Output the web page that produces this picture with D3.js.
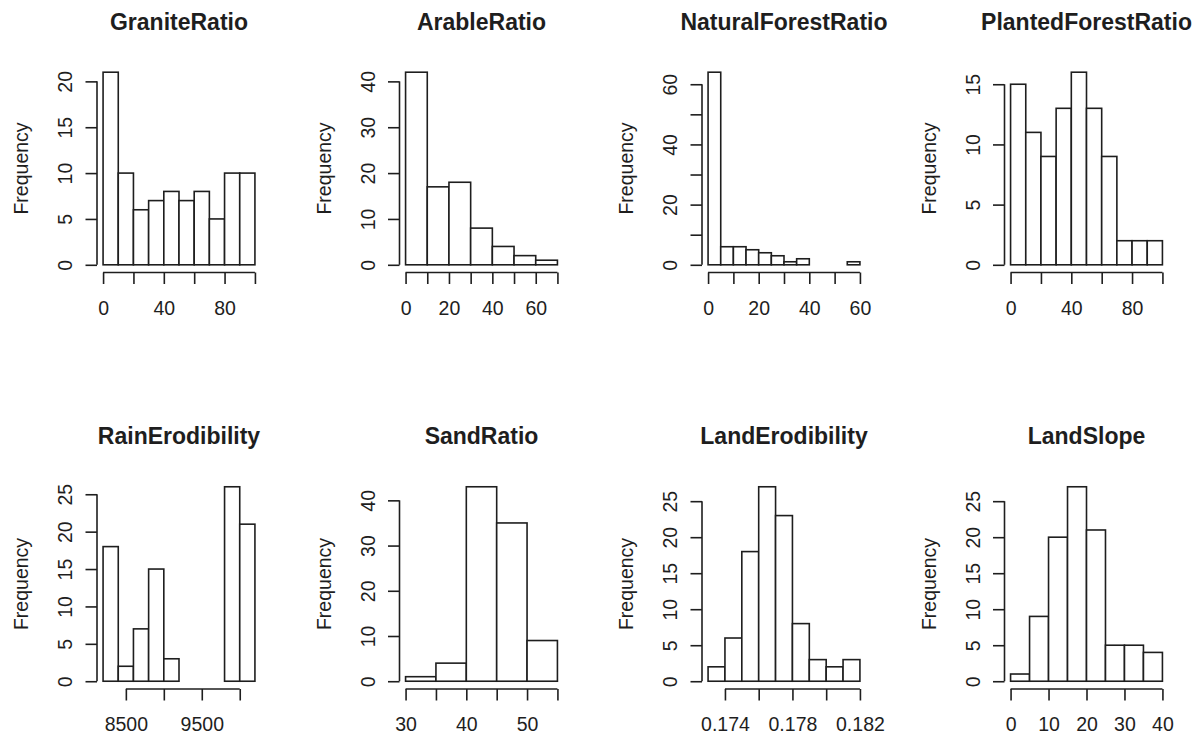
<!DOCTYPE html>
<html>
<head>
<meta charset="utf-8">
<script src="https://cdn.jsdelivr.net/npm/d3@7"></script>
<style>
  html, body { margin: 0; padding: 0; background: #fff; }
  svg { display: block; font-family: "Liberation Sans", Arial, sans-serif; }
</style>
</head>
<body>
<svg id="chart" width="1204" height="738"></svg>
<script>
// histogram titles, one per panel (row by row)
var titles = ['GraniteRatio', 'ArableRatio', 'NaturalForestRatio', 'PlantedForestRatio',
              'RainErodibility', 'SandRatio', 'LandErodibility', 'LandSlope'];

// bin edges + counts
var graniteBreaks = [0, 10, 20, 30, 40, 50, 60, 70, 80, 90, 100];
var graniteCounts = [21, 10, 6, 7, 8, 7, 8, 5, 10, 10];

var arableBreaks = [0, 10, 20, 30, 40, 50, 60, 70];
var arableCounts = [42, 17, 18, 8, 4, 2, 1];

var naturalBreaks = [0, 5, 10, 15, 20, 25, 30, 35, 40, 45, 50, 55, 60];
var naturalCounts = [64, 6, 6, 5, 4, 3, 1, 2, 0, 0, 0, 1];

var plantedBreaks = [0, 10, 20, 30, 40, 50, 60, 70, 80, 90, 100];
var plantedCounts = [15, 11, 9, 13, 16, 13, 9, 2, 2, 2];

var rainBreaks = [8200, 8400, 8600, 8800, 9000, 9200, 9400, 9600, 9800, 10000, 10200];
var rainCounts = [18, 2, 7, 15, 3, 0, 0, 0, 26, 21];

var sandBreaks = [30, 35, 40, 45, 50, 55];
var sandCounts = [1, 4, 43, 35, 9];

var landErodBreaks = [0.173, 0.174, 0.175, 0.176, 0.177, 0.178, 0.179, 0.180, 0.181, 0.182];
var landErodCounts = [2, 6, 18, 27, 23, 8, 3, 2, 3];

var slopeBreaks = [0, 5, 10, 15, 20, 25, 30, 35, 40];
var slopeCounts = [1, 9, 20, 27, 21, 5, 5, 4];

// axis ticks and the labels R kept (empty = tick without label)
var xTicks = [
  [0, 20, 40, 60, 80, 100],
  [0, 10, 20, 30, 40, 50, 60, 70],
  [0, 10, 20, 30, 40, 50, 60],
  [0, 20, 40, 60, 80, 100],
  [8500, 9000, 9500, 10000],
  [30, 35, 40, 45, 50, 55],
  [0.174, 0.176, 0.178, 0.180, 0.182],
  [0, 10, 20, 30, 40]
];
var xLabels = [
  ['0', '', '40', '', '80', ''],
  ['0', '', '20', '', '40', '', '60', ''],
  ['0', '', '20', '', '40', '', '60'],
  ['0', '', '40', '', '80', ''],
  ['8500', '', '9500', ''],
  ['30', '', '40', '', '50', ''],
  ['0.174', '', '0.178', '', '0.182'],
  ['0', '10', '20', '30', '40']
];
var yTicks = [
  [0, 5, 10, 15, 20],
  [0, 10, 20, 30, 40],
  [0, 10, 20, 30, 40, 50, 60],
  [0, 5, 10, 15],
  [0, 5, 10, 15, 20, 25],
  [0, 10, 20, 30, 40],
  [0, 5, 10, 15, 20, 25],
  [0, 5, 10, 15, 20, 25]
];
var yLabels = [
  ['0', '5', '10', '15', '20'],
  ['0', '10', '20', '30', '40'],
  ['0', '', '20', '', '40', '', '60'],
  ['0', '5', '10', '15'],
  ['0', '5', '10', '15', '20', '25'],
  ['0', '10', '20', '30', '40'],
  ['0', '5', '10', '15', '20', '25'],
  ['0', '5', '10', '15', '20', '25']
];

var allBreaks = [graniteBreaks, arableBreaks, naturalBreaks, plantedBreaks,
                 rainBreaks, sandBreaks, landErodBreaks, slopeBreaks];
var allCounts = [graniteCounts, arableCounts, naturalCounts, plantedCounts,
                 rainCounts, sandCounts, landErodCounts, slopeCounts];

// layout of the 2x4 grid (plot regions)
var colLeft = [97, 399.5, 702, 1004.5];
var plotW = 164;
var rowTop = [64.5, 479];
var rowBottom = [272.5, 689];

var ink = '#1e1e1e';
var tickLen = 11.5;
var tickFont = 19.5;

var svg = d3.select('#chart');
svg.append('rect').attr('width', 1204).attr('height', 738).attr('fill', '#fff');

titles.forEach(function(title, i) {
  var row = Math.floor(i / 4), col = i % 4;
  var left = colLeft[col], right = left + plotW;
  var top = rowTop[row], bottom = rowBottom[row];
  var breaks = allBreaks[i], counts = allCounts[i];

  var lo = breaks[0], hi = breaks[breaks.length - 1];
  var padX = (hi - lo) * 0.04;
  var x = d3.scaleLinear().domain([lo - padX, hi + padX]).range([left, right]);
  var maxC = d3.max(counts);
  var y = d3.scaleLinear().domain([-maxC * 0.04, maxC * 1.04]).range([bottom, top]);

  var g = svg.append('g').attr('class', 'panel');

  // bars
  var bins = counts.map(function(c, k) {
    return {x0: breaks[k], x1: breaks[k + 1], n: c};
  });
  g.selectAll('rect.bar')
    .data(bins)
    .enter().append('rect')
      .attr('class', 'bar')
      .attr('x', function(d) { return x(d.x0); })
      .attr('width', function(d) { return x(d.x1) - x(d.x0); })
      .attr('y', function(d) { return y(d.n); })
      .attr('height', function(d) { return y(0) - y(d.n); })
      .attr('fill', '#fff')
      .attr('stroke', ink)
      .attr('stroke-width', 1.6)
  ;

  // x axis
  var xt = xTicks[i], xl = xLabels[i];
  var xAxis = g.append('g')
    .attr('transform', 'translate(0,' + bottom + ')')
    .call(d3.axisBottom(x)
      .tickValues(xt)
      .tickSizeInner(tickLen)
      .tickSizeOuter(0)
      .tickFormat(function(d, k) { return xl[k]; }))
  ;
  xAxis.select('.domain').remove();
  xAxis.append('line')
    .attr('x1', x(xt[0])).attr('x2', x(xt[xt.length - 1]))
    .attr('stroke', ink).attr('stroke-width', 1.6);
  xAxis.selectAll('.tick line').attr('stroke', ink).attr('stroke-width', 1.6);
  xAxis.selectAll('.tick text')
    .attr('y', 42).attr('dy', null)
    .attr('fill', ink)
    .style('font-size', tickFont + 'px')
    .style('font-family', '"Liberation Sans", Arial, sans-serif');

  // y axis
  var yt = yTicks[i], yl = yLabels[i];
  var yAxis = g.append('g')
    .attr('transform', 'translate(' + left + ',0)')
    .call(d3.axisLeft(y)
      .tickValues(yt)
      .tickSizeInner(tickLen)
      .tickSizeOuter(0)
      .tickFormat(function(d, k) { return yl[k]; }))
  ;
  yAxis.select('.domain').remove();
  yAxis.append('line')
    .attr('y1', y(yt[0])).attr('y2', y(yt[yt.length - 1]))
    .attr('stroke', ink).attr('stroke-width', 1.6);
  yAxis.selectAll('.tick line').attr('stroke', ink).attr('stroke-width', 1.6);
  yAxis.selectAll('.tick text')
    .attr('x', 0).attr('y', -25).attr('dy', null)
    .attr('transform', 'rotate(-90)')
    .attr('text-anchor', 'middle')
    .attr('fill', ink)
    .style('font-size', tickFont + 'px')
    .style('font-family', '"Liberation Sans", Arial, sans-serif');

  // y label
  g.append('text')
    .attr('transform', 'translate(' + (left - 69) + ',' + ((top + bottom) / 2) + ') rotate(-90)')
    .attr('text-anchor', 'middle')
    .attr('fill', ink)
    .style('font-size', tickFont + 'px')
    .text('Frequency');

  // title
  g.append('text')
    .attr('x', (left + right) / 2)
    .attr('y', top - 35)
    .attr('text-anchor', 'middle')
    .attr('fill', ink)
    .style('font-size', '23px')
    .style('font-weight', 'bold')
    .text(title);
});
</script>
</body>
</html>
